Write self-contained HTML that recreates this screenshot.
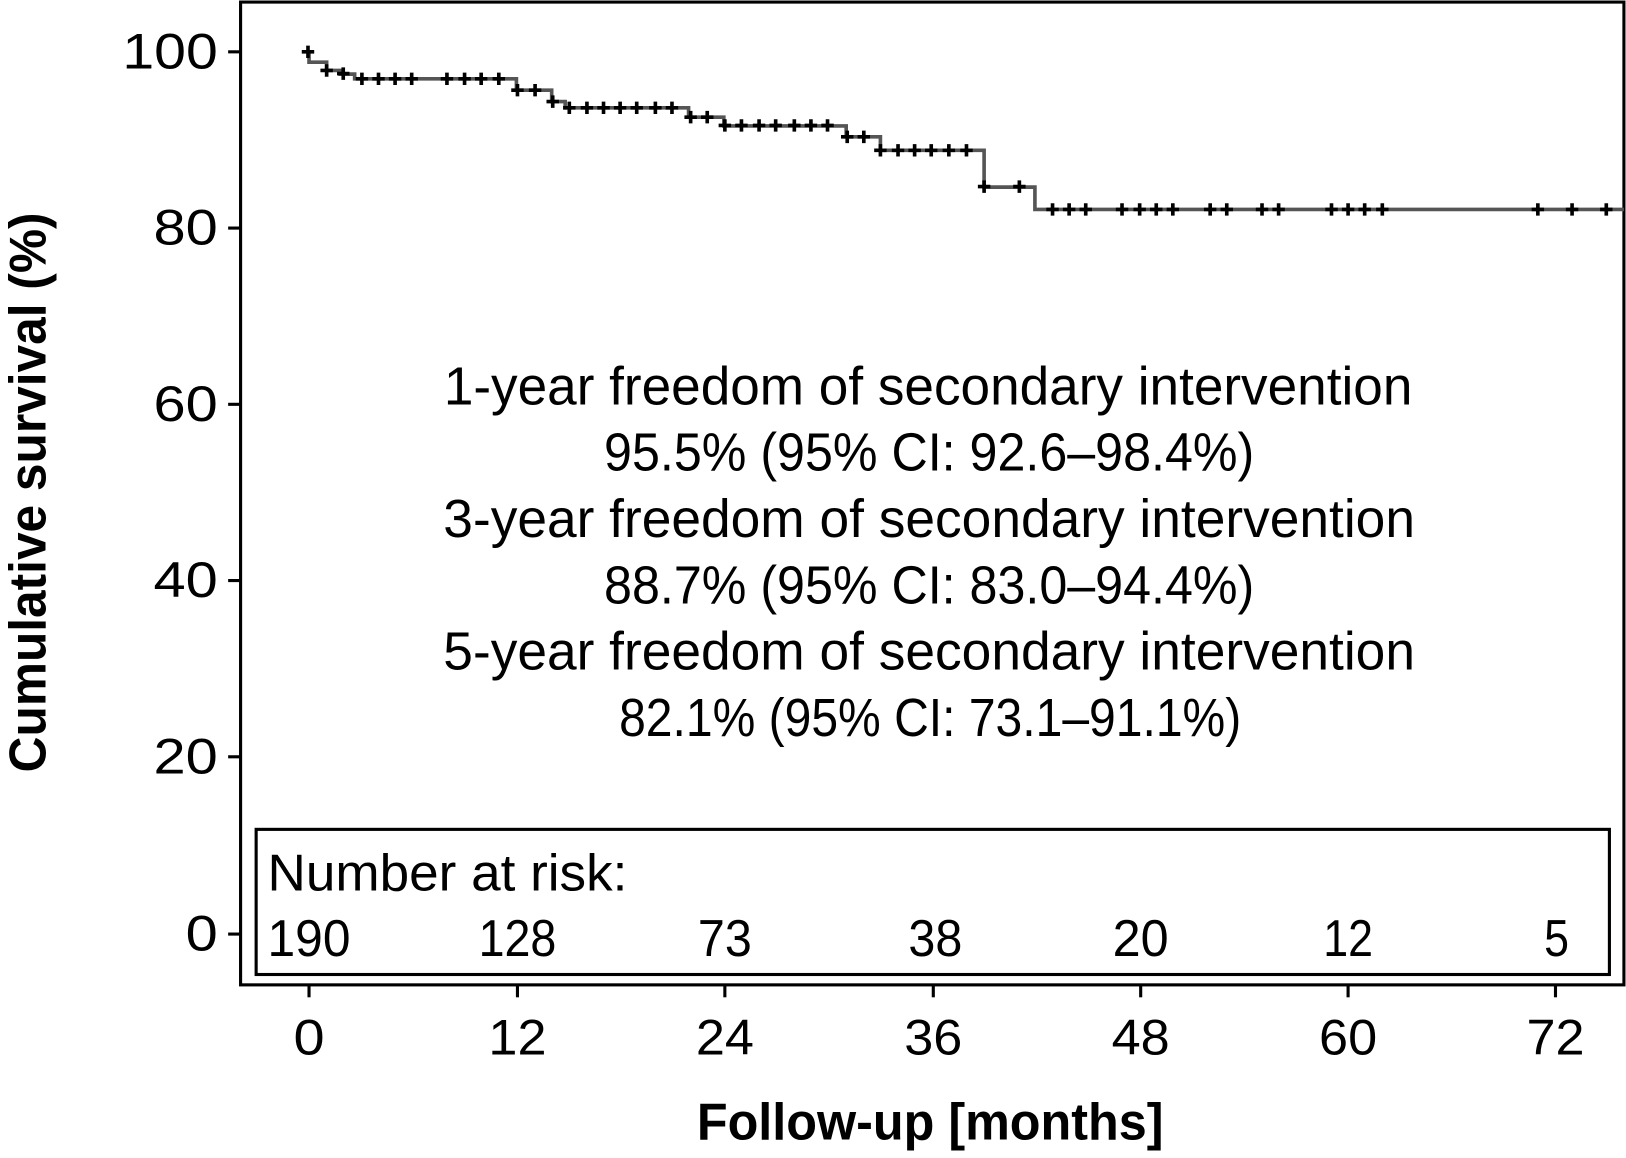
<!DOCTYPE html>
<html><head><meta charset="utf-8"><style>html,body{margin:0;padding:0;background:#fff}svg{display:block}</style></head>
<body>
<svg width="1626" height="1158" viewBox="0 0 1568 1117" preserveAspectRatio="none" xmlns="http://www.w3.org/2000/svg" font-family="Liberation Sans, sans-serif">
<rect x="0" y="0" width="1568" height="1117" fill="#fff"/>
<rect x="232" y="2" width="1334" height="948" fill="none" stroke="#000" stroke-width="3"/>
<g stroke="#000" stroke-width="3">
<line x1="220" y1="50" x2="232" y2="50"/><line x1="220" y1="220" x2="232" y2="220"/>
<line x1="220" y1="390" x2="232" y2="390"/><line x1="220" y1="560" x2="232" y2="560"/>
<line x1="220" y1="730" x2="232" y2="730"/><line x1="220" y1="901" x2="232" y2="901"/>
<line x1="298" y1="950" x2="298" y2="962"/><line x1="499" y1="950" x2="499" y2="962"/>
<line x1="699" y1="950" x2="699" y2="962"/><line x1="900" y1="950" x2="900" y2="962"/>
<line x1="1100" y1="950" x2="1100" y2="962"/><line x1="1300" y1="950" x2="1300" y2="962"/>
<line x1="1500" y1="950" x2="1500" y2="962"/>
</g>
<g font-size="48" text-anchor="end" fill="#000">
<text x="210" y="66" textLength="92" lengthAdjust="spacingAndGlyphs">100</text>
<text x="210" y="236" textLength="62" lengthAdjust="spacingAndGlyphs">80</text>
<text x="210" y="406" textLength="62" lengthAdjust="spacingAndGlyphs">60</text>
<text x="210" y="576" textLength="62" lengthAdjust="spacingAndGlyphs">40</text>
<text x="210" y="746" textLength="62" lengthAdjust="spacingAndGlyphs">20</text>
<text x="210" y="917" textLength="31" lengthAdjust="spacingAndGlyphs">0</text>
</g>
<g font-size="48" text-anchor="middle" fill="#000">
<text x="298" y="1017" textLength="30" lengthAdjust="spacingAndGlyphs">0</text>
<text x="499" y="1017" textLength="56" lengthAdjust="spacingAndGlyphs">12</text>
<text x="699" y="1017" textLength="56" lengthAdjust="spacingAndGlyphs">24</text>
<text x="900" y="1017" textLength="56" lengthAdjust="spacingAndGlyphs">36</text>
<text x="1100" y="1017" textLength="56" lengthAdjust="spacingAndGlyphs">48</text>
<text x="1300" y="1017" textLength="56" lengthAdjust="spacingAndGlyphs">60</text>
<text x="1500" y="1017" textLength="56" lengthAdjust="spacingAndGlyphs">72</text>
</g>
<text x="897" y="1099" font-size="50" font-weight="bold" text-anchor="middle" textLength="450" lengthAdjust="spacingAndGlyphs">Follow-up [months]</text>
<text transform="translate(44,475) rotate(-90)" font-size="50" font-weight="bold" text-anchor="middle" textLength="540" lengthAdjust="spacingAndGlyphs">Cumulative survival (%)</text>
<polyline fill="none" stroke="#555" stroke-width="3.5" points="298,50 298,60 315,60 315,68 328,68 328,71.5 342,71.5 342,76 498,76 498,87 532,87 532,98 545,98 545,104 664,104 664,113 698,113 698,121.5 816,121.5 816,132 849,132 849,145 949,145 949,180.5 998,180.5 998,202 1566,202"/>
<g stroke="#000" stroke-width="3.5">
<path d="
M297,44v12M291,50h12
M315,62v12M309,68h12
M331,65v12M325,71h12
M349,70v12M343,76h12 M365,70v12M359,76h12 M381,70v12M375,76h12 M397,70v12M391,76h12
M431,70v12M425,76h12 M448,70v12M442,76h12 M464,70v12M458,76h12 M481,70v12M475,76h12
M499,81v12M493,87h12 M516,81v12M510,87h12
M533,92v12M527,98h12
M549,98v12M543,104h12 M566,98v12M560,104h12 M582,98v12M576,104h12 M598,98v12M592,104h12 M614,98v12M608,104h12 M632,98v12M626,104h12 M648,98v12M642,104h12
M666,107v12M660,113h12 M682,107v12M676,113h12
M699,115v12M693,121h12 M715,115v12M709,121h12 M732,115v12M726,121h12 M748,115v12M742,121h12 M766,115v12M760,121h12 M782,115v12M776,121h12 M798,115v12M792,121h12
M817,126v12M811,132h12 M833,126v12M827,132h12
M849,139v12M843,145h12 M866,139v12M860,145h12 M882,139v12M876,145h12 M898,139v12M892,145h12 M915,139v12M909,145h12 M932,139v12M926,145h12
M949,174v12M943,180h12 M983,174v12M977,180h12
M1015,196v12M1009,202h12 M1031,196v12M1025,202h12 M1047,196v12M1041,202h12
M1082,196v12M1076,202h12 M1099,196v12M1093,202h12 M1115,196v12M1109,202h12 M1131,196v12M1125,202h12
M1167,196v12M1161,202h12 M1183,196v12M1177,202h12
M1217,196v12M1211,202h12 M1233,196v12M1227,202h12
M1284,196v12M1278,202h12 M1300,196v12M1294,202h12 M1316,196v12M1310,202h12 M1333,196v12M1327,202h12
M1483,196v12M1477,202h12 M1516,196v12M1510,202h12 M1549,196v12M1543,202h12"/>
</g>
<g font-size="52" text-anchor="middle" fill="#000">
<text x="895" y="390" textLength="934" lengthAdjust="spacingAndGlyphs">1-year freedom of secondary intervention</text>
<text x="896" y="454" textLength="627" lengthAdjust="spacingAndGlyphs">95.5% (95% CI: 92.6–98.4%)</text>
<text x="896" y="518" textLength="937" lengthAdjust="spacingAndGlyphs">3-year freedom of secondary intervention</text>
<text x="896" y="582" textLength="627" lengthAdjust="spacingAndGlyphs">88.7% (95% CI: 83.0–94.4%)</text>
<text x="896" y="646" textLength="937" lengthAdjust="spacingAndGlyphs">5-year freedom of secondary intervention</text>
<text x="897" y="710" textLength="600" lengthAdjust="spacingAndGlyphs">82.1% (95% CI: 73.1–91.1%)</text>
</g>
<rect x="247" y="800" width="1305" height="140" fill="#fff" stroke="#000" stroke-width="3"/>
<text x="258" y="859" font-size="50" textLength="347" lengthAdjust="spacingAndGlyphs">Number at risk:</text>
<g font-size="50" text-anchor="middle">
<text x="298" y="922" textLength="80" lengthAdjust="spacingAndGlyphs">190</text>
<text x="499" y="922" textLength="75" lengthAdjust="spacingAndGlyphs">128</text>
<text x="699" y="922" textLength="52" lengthAdjust="spacingAndGlyphs">73</text>
<text x="902" y="922" textLength="52" lengthAdjust="spacingAndGlyphs">38</text>
<text x="1100" y="922" textLength="54" lengthAdjust="spacingAndGlyphs">20</text>
<text x="1300" y="922" textLength="48" lengthAdjust="spacingAndGlyphs">12</text>
<text x="1501" y="922" textLength="24" lengthAdjust="spacingAndGlyphs">5</text>
</g>
</svg>
</body></html>
